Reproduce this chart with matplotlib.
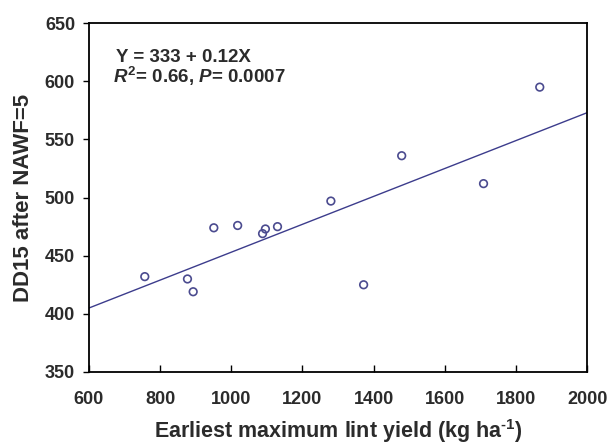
import numpy as np
import matplotlib.pyplot as plt

plt.rcParams['font.family'] = ['Liberation Sans', 'DejaVu Sans']
plt.rcParams['font.weight'] = 'bold'
plt.rcParams['mathtext.fontset'] = 'custom'
plt.rcParams['mathtext.rm'] = 'Liberation Sans:bold'
plt.rcParams['mathtext.it'] = 'Liberation Sans:italic:bold'
plt.rcParams['mathtext.bf'] = 'Liberation Sans:bold'

# data
yield_kg = [757, 877, 893, 951, 1018, 1088, 1096, 1130, 1280, 1372, 1479, 1709, 1867]
dd15 = [432, 430, 419, 474, 476, 469, 473, 475, 497, 425, 536, 512, 595]

intercept = 333
slope = 0.12
x_ticks = [600, 800, 1000, 1200, 1400, 1600, 1800, 2000]
y_ticks = [350, 400, 450, 500, 550, 600, 650]

text_col = '#2b2b2b'
mark_col = '#4b4b8f'

fig = plt.figure(figsize=(6.09, 4.46), dpi=100)
ax = fig.add_axes([0.146, 0.166, 0.818, 0.782])

xs = np.array([600, 2000])
ax.plot(xs, intercept + slope * xs, color='#3c3c8c', lw=1.0)
ax.scatter(yield_kg, dd15, s=30, facecolors='none', edgecolors=mark_col, linewidths=1.2, zorder=3)

ax.set_xlim(600, 2000)
ax.set_ylim(350, 650)
ax.set_xticks(x_ticks)
ax.set_yticks(y_ticks)
ax.tick_params(axis='x', direction='in', length=5, width=1, pad=14, labelsize=13, labelcolor=text_col)
ax.tick_params(axis='y', direction='out', length=4, width=1, pad=6, labelsize=13, labelcolor=text_col)
for s in ax.spines.values():
    s.set_linewidth(1.3)
    s.set_color('black')

ax.set_xlabel(r'Earliest maximum lint yield (kg ha$^{\text{-1}}$)', fontsize=15.5,
              fontweight='bold', color=text_col, labelpad=6)
ax.set_ylabel('DD15 after NAWF=5', fontsize=16, fontweight='bold', color=text_col, labelpad=8)

ax.text(0.054, 0.888, 'Y = 333 + 0.12X', transform=ax.transAxes, fontsize=13.5, color=text_col)
ax.text(0.048, 0.828, r'$R^{2}$= 0.66, $P$= 0.0007', transform=ax.transAxes, fontsize=13.5, color=text_col)

fig.savefig('out.png', dpi=100)
